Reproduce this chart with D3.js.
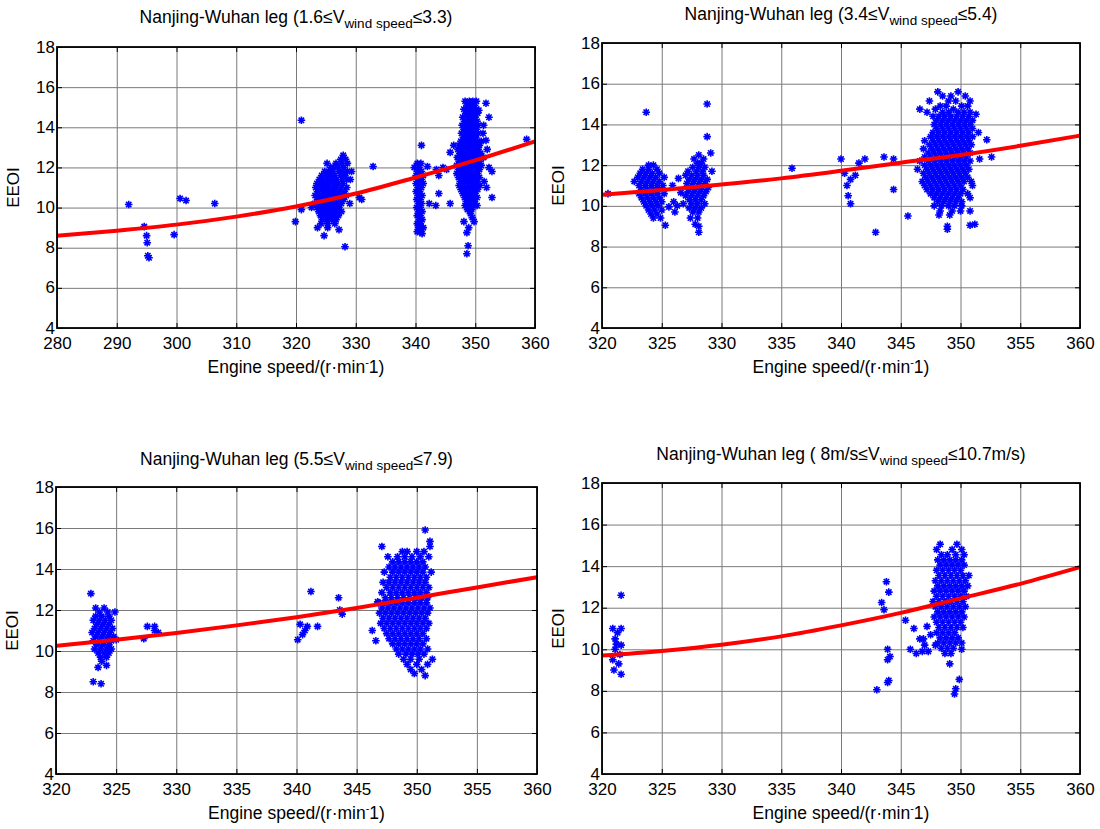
<!DOCTYPE html>
<html><head><meta charset="utf-8">
<script src="https://cdn.jsdelivr.net/npm/d3@7"></script>
<style>html,body{margin:0;padding:0;background:#fff;}svg{display:block;}text{font-family:"Liberation Sans",Arial,sans-serif;fill:#000;}</style>
</head><body>
<svg id="c" width="1100" height="829"></svg>
<script>
// ---------- DATA ----------
const xTicksWide = [280, 290, 300, 310, 320, 330, 340, 350, 360];
const xTicksNarrow = [320, 325, 330, 335, 340, 345, 350, 355, 360];
const yTicks = [4, 6, 8, 10, 12, 14, 16, 18];

const titleMain = "Nanjing-Wuhan leg (";
const titleLows = ["1.6≤V", "3.4≤V", "5.5≤V", " 8m/s≤V"];
const titleHighs = ["≤3.3)", "≤5.4)", "≤7.9)", "≤10.7m/s)"];
const titleSub = "wind speed";
const xLabel = "Engine speed/(r·min";
const yLabel = "EEOI";

// Panel 1 (1.6 ≤ V ≤ 3.3): isolated points [speed, EEOI]
const scatter1 = [
 [292,10.15],[294.6,9.05],[295,8.6],[295.1,8.25],[295.2,7.6],[295.4,7.5],[299.6,8.65],[300.6,10.45],[301.6,10.35],[306.4,10.2],
 [320.9,14.35],[319.9,9.3],[320.9,9.9],
 [323.6,9.0],[324.7,8.6],[325.3,9.0],[327.2,8.9],[328.2,8.05],[330.6,10.5],[331,10.4],[332.9,12.05],[322.6,10.0],[329.3,11.8],[329.0,10.2],
 [341,13.1],[341.1,8.7],
 [342,12.05],[343.5,11.9],[343.9,11.6],[342.3,10.2],[343.4,10.1],[343.9,10.7],[345.8,10.2],[345.8,12.75],[346.4,13.1],[344.6,12.0],[345.2,11.9],
 [348.1,9.3],[349.8,9.3],[348.6,8.75],[348.8,8.1],[348.6,7.7],[349.2,9.7],[348.9,9.0],[349.5,9.5],
 [350.6,14.85],[352.3,14.5],[351.8,15.2],[351.4,14.1],[351.8,13.35],[352,12.9],[351.4,12.5],[352.3,12.0],[352.8,11.8],[352.8,10.5],
 [350.3,10.1],[358.6,13.4],[351.3,13.7],[351.5,11.3],[351.9,11.0]
];
// Panel 1 dense groups, by row: [EEOI, [speeds...]]
const dense1 = [
 [12.6,[327.9]],[12.4,[327.5,328.3]],[12.2,[325.2,326.7,327.6,328.6]],[12.0,[325.8,326.3,327.1,328.0]],
 [11.8,[324.8,325.5,326.2,327.2,327.9,328.6]],[11.6,[324.3,325.1,325.8,326.5,327.5,328.2]],
 [11.4,[323.9,324.6,325.3,326.0,326.8,327.7,328.5,329.1]],[11.2,[323.5,324.2,324.9,325.6,326.4,327.1,327.9]],
 [11.0,[323.3,324.0,324.7,325.4,326.1,326.8,327.6,328.5]],[10.8,[323.6,324.4,325.1,325.8,326.5,327.3,328.1]],
 [10.6,[323.2,323.9,324.7,325.4,326.1,326.9,327.7,328.4]],[10.4,[323.6,324.3,325.0,325.7,326.5,327.3,328.0]],
 [10.2,[323.1,323.9,324.6,325.3,326.0,326.8,327.6]],[10.0,[323.5,324.2,324.9,325.6,326.4,327.2]],
 [9.8,[323.8,324.5,325.2,326.0,326.8,327.6]],[9.6,[324.1,324.9,325.6,326.4,327.1]],[9.4,[324.4,325.2,326.0,326.7]],[9.2,[324.2,325.3,326.5]],
 [12.2,[340.3,340.9]],[12.0,[339.8,340.6]],[11.8,[340.3,341.0]],[11.6,[340.1,340.7,341.3]],[11.4,[340.4,341.0]],
 [11.2,[340.1,340.7,341.3]],[11.0,[340.4,341.0]],[10.8,[340.1,340.7]],[10.6,[340.4,341.1]],[10.4,[340.2,340.8]],
 [10.2,[340.5,341.0]],[10.0,[340.2,340.8]],[9.8,[340.5,341.1]],[9.6,[340.3,340.8]],[9.4,[340.6,341.1]],
 [9.2,[340.3,340.8]],[9.0,[340.5,341.0,341.3]],[8.8,[340.3,340.8]],
 [15.3,[348.3,349.0,349.6,350.2]],[15.1,[348.6,349.3,349.9]],[14.9,[348.1,348.8,349.5,350.2]],[14.7,[348.4,349.1,349.8,350.4]],
 [14.5,[347.9,348.7,349.4,350.0]],[14.3,[348.2,348.9,349.6,350.3]],[14.1,[347.8,348.5,349.2,349.9,350.5]],
 [13.9,[348.1,348.8,349.5,350.2]],[13.7,[347.7,348.4,349.1,349.8,350.5]],[13.5,[348.0,348.7,349.4,350.1]],
 [13.3,[347.6,348.3,349.0,349.7,350.4,351.0]],[13.1,[347.3,348.0,348.7,349.4,350.1,350.7]],
 [12.9,[347.1,347.7,348.4,349.1,349.8,350.5]],[12.7,[347.4,348.1,348.8,349.5,350.2,350.9]],
 [12.5,[347.0,347.7,348.4,349.1,349.8,350.5]],[12.3,[347.3,348.0,348.7,349.4,350.1,350.8]],
 [12.1,[346.9,347.6,348.3,349.0,349.7,350.4,351.0]],[11.9,[347.2,347.9,348.6,349.3,350.0,350.7]],
 [11.7,[346.9,347.6,348.3,349.0,349.7,350.4]],[11.5,[347.2,347.9,348.6,349.3,350.0,350.7]],
 [11.3,[347.5,348.2,348.9,349.6,350.3]],[11.1,[347.3,348.0,348.7,349.4,350.1,350.8]],
 [10.9,[347.6,348.3,349.0,349.7,350.4]],[10.7,[347.9,348.6,349.3,350.0]],[10.5,[348.2,348.9,349.6,350.3]],
 [10.3,[348.5,349.2,349.9]],[10.1,[348.3,349.0,349.7]],[9.9,[348.7,349.4]]
];
const fit1 = [[280,8.6],[290,8.85],[300,9.15],[310,9.55],[320,10.05],[330,10.7],[340,11.5],[350,12.35],[360,13.3]];

// Panel 2 (3.4 ≤ V ≤ 5.4)
const scatter2 = [
 [320.5,10.6],[323.7,14.6],[325.3,9.05],
 [325.6,9.95],[326,10.2],[326.6,10.65],[325.9,11.0],[326.3,10.0],[326.1,9.7],[326.4,11.35],
 [328.8,15.0],[328.8,13.4],[327.8,9.1],[328.1,9.0],[328.1,8.7],
 [335.9,11.85],[340,12.3],[340.5,11.0],[340.8,10.1],[341.5,12.1],[342,12.3],[342.9,8.7],[343.6,12.4],[344.4,12.3],[344.4,10.8],
 [340.3,11.6],[340.8,11.3],[341.2,11.5],[340.6,10.5],[345.6,9.5],
 [348.9,9.0],[348.9,8.85],[351.2,9.1],[350.8,9.05],[351,11.0],
 [352.2,13.25],[352.6,12.4],[351.6,12.3],[351.5,13.6],[351.3,14.5]
];
const dense2 = [
 [12.0,[323.9,324.3]],[11.8,[323.4,323.9,324.6]],[11.6,[323.2,323.7,324.2,324.8]],[11.4,[323.0,323.5,324.0,324.5,325.2]],
 [11.2,[322.7,323.3,323.8,324.3,324.8]],[11.0,[323.1,323.6,324.1,324.6,325.1]],[10.8,[323.3,323.8,324.3,324.8]],
 [10.6,[323.1,323.6,324.1,324.6,325.2]],[10.4,[323.3,323.8,324.3,324.8]],[10.2,[323.5,324.0,324.5,325.0]],
 [10.0,[323.7,324.2,324.7]],[9.8,[323.9,324.4,325.0]],[9.6,[324.1,324.6]],[9.4,[324.3,324.9]],
 [12.6,[329.1]],[12.5,[328.1]],[12.3,[327.7,328.5]],[12.1,[328.0,328.3]],[11.9,[327.6,328.1,328.6]],
 [11.7,[327.2,327.9,328.4,329.2]],[11.5,[327.0,327.5,328.0,328.5]],[11.3,[327.3,327.8,328.3,328.8]],
 [11.1,[327.1,327.6,328.1,328.6]],[10.9,[327.4,327.9,328.4,328.9]],[10.7,[327.2,327.7,328.2,328.7]],
 [10.5,[327.0,327.5,328.0,328.5]],[10.3,[327.3,327.8,328.3]],[10.1,[326.8,327.5,328.0,328.6]],
 [9.9,[327.3,327.8,328.3]],[9.7,[327.6,328.1]],[9.4,[327.4,328.0]],
 [15.6,[348.1,349.8]],[15.4,[348.5,349.2,350.4]],[15.15,[347.4,349.0,349.6,350.8]],[14.9,[348.3,348.8,350.1,350.6]],
 [14.75,[346.6,347.9,349.4]],[14.6,[347.2,348.5,349.0,349.8,350.3,350.8]],
 [14.4,[347.7,348.2,348.7,349.2,349.7,350.2,350.7]],[14.2,[348.0,348.5,349.0,349.5,350.0,350.5,351.0]],
 [14.0,[347.8,348.3,348.8,349.3,349.8,350.3,350.8]],[13.8,[348.0,348.5,349.0,349.5,350.0,350.5,351.0]],
 [13.6,[347.7,348.2,348.7,349.2,349.7,350.2,350.7]],[13.4,[347.5,348.0,348.5,349.0,349.5,350.0,350.5,351.0]],
 [13.2,[347.0,347.7,348.2,348.7,349.2,349.7,350.2,350.7]],[13.0,[347.4,347.9,348.4,348.9,349.4,349.9,350.4,350.9]],
 [12.8,[346.9,347.6,348.1,348.6,349.1,349.6,350.1,350.6]],[12.6,[347.3,347.8,348.3,348.8,349.3,349.8,350.3,350.8]],
 [12.4,[347.0,347.5,348.0,348.5,349.0,349.5,350.0,350.5]],[12.2,[346.6,347.3,347.8,348.3,348.8,349.3,349.8,350.3,350.8]],
 [12.0,[347.0,347.5,348.0,348.5,349.0,349.5,350.0,350.5]],[11.8,[346.4,347.2,347.7,348.2,348.7,349.2,349.7,350.2,350.7]],
 [11.6,[346.9,347.4,347.9,348.4,348.9,349.4,349.9,350.4]],[11.4,[347.1,347.6,348.1,348.6,349.1,349.6,350.1,350.6]],
 [11.2,[346.8,347.3,347.8,348.3,348.8,349.3,349.8,350.3,350.9]],[11.0,[347.0,347.5,348.0,348.5,349.0,349.5,350.0]],
 [10.8,[347.2,347.7,348.2,348.7,349.2,349.7,350.2]],[10.6,[347.5,348.0,348.5,349.0,349.5,350.0,350.6]],
 [10.4,[347.8,348.3,348.8,349.3,349.8,350.8]],[10.2,[348.1,348.6,349.1,349.6,350.1]],
 [10.0,[347.8,348.4,349.0,349.5,350.1]],[9.75,[348.3,349.3,350.0,350.8]],[9.55,[348.2,349.1]]
];
const fit2 = [[320,10.55],[325,10.78],[330,11.05],[335,11.35],[340,11.72],[345,12.12],[350,12.5],[355,12.95],[360,13.45]];

// Panel 3 (5.5 ≤ V ≤ 7.9)
const scatter3 = [
 [322.9,12.8],[323.5,9.2],[323.1,8.5],[323.75,8.4],[325,10.55],
 [327.3,10.6],[327.6,11.2],[328.2,11.0],[328.5,10.9],[328.2,11.2],
 [340.3,11.3],[340.1,10.55],[340.7,11.0],[340.9,11.2],[341.2,12.9],[341.75,11.2],[343.5,12.6],[343.6,12.0],[343.8,11.8],[340.5,10.8],
 [350.7,15.9],[351.1,15.35],[347.1,15.1],[351.1,15.1],[349.8,8.9],[350.7,8.8],
 [346.75,12.4],[346.3,11.0],[346.6,10.5]
];
const dense3 = [
 [12.1,[323.3,324.0]],[11.9,[323.6,324.3,324.9]],[11.7,[323.3,323.8,324.4]],[11.5,[323.1,323.6,324.1,324.6]],
 [11.3,[323.4,323.9,324.4]],[11.1,[323.2,323.7,324.2,324.7]],[10.9,[323.0,323.5,324.0,324.5]],
 [10.7,[323.3,323.8,324.3,324.8]],[10.5,[323.1,323.6,324.1,324.6]],[10.3,[323.4,323.9,324.4]],
 [10.1,[323.2,323.7,324.2,324.6]],[9.9,[323.5,324.0,324.4]],[9.7,[323.7,324.2]],[9.5,[323.8]],[9.3,[324.2]],
 [14.85,[348.8,349.2,350.0,350.6]],[14.6,[347.6,348.4,349.0,349.6,350.3,351.0]],
 [14.35,[348.0,348.5,349.0,349.5,350.0,350.5]],[14.1,[347.7,348.2,348.7,349.2,349.7,350.2,350.7]],
 [13.85,[347.3,348.0,348.5,349.0,349.5,350.0,350.5,351.2]],[13.6,[347.8,348.3,348.8,349.3,349.8,350.3,350.8]],
 [13.35,[347.2,347.7,348.2,348.7,349.2,349.7,350.2,350.7]],[13.1,[347.5,348.0,348.5,349.0,349.5,350.0,350.5,351.0]],
 [12.85,[347.1,347.8,348.3,348.8,349.3,349.8,350.3,350.8]],[12.6,[347.4,347.9,348.4,348.9,349.4,349.9,350.4,350.9]],
 [12.35,[346.8,347.3,347.8,348.3,348.8,349.3,349.8,350.3,350.8]],[12.1,[347.1,347.6,348.1,348.6,349.1,349.6,350.1,350.6,351.1]],
 [11.85,[346.9,347.4,347.9,348.4,348.9,349.4,349.9,350.4,350.9]],[11.6,[347.2,347.7,348.2,348.7,349.2,349.7,350.2,350.7]],
 [11.35,[347.0,347.5,348.0,348.5,349.0,349.5,350.0,350.5,351.0]],[11.1,[347.3,347.8,348.3,348.8,349.3,349.8,350.3,350.8]],
 [10.85,[347.5,348.0,348.5,349.0,349.5,350.0,350.5]],[10.6,[347.7,348.2,348.7,349.2,349.7,350.2,350.8]],
 [10.35,[348.0,348.5,349.0,349.5,350.0,350.5]],[10.1,[348.3,348.8,349.3,349.8,350.3,350.9]],
 [9.85,[348.5,349.1,349.6,350.1,350.6]],[9.6,[348.9,349.5,350.2,351.3]],[9.35,[349.2,350.0,350.9]],[9.1,[349.5,350.4]]
];
const fit3 = [[320,10.25],[325,10.55],[330,10.88],[335,11.25],[340,11.65],[345,12.1],[350,12.6],[355,13.1],[360,13.6]];

// Panel 4 (8 m/s ≤ V ≤ 10.7 m/s)
const scatter4 = [
 [321.6,12.6],[320.9,11.0],[321.6,11.0],[321.1,10.5],[321.6,10.2],[321.1,10.0],[321.5,9.75],[320.9,9.5],[321.4,9.3],[321.0,9.0],[321.6,8.8],[321.3,10.8],[321.2,10.25],
 [343,8.05],[343.9,8.4],[344,8.5],[343.4,12.25],[343.8,13.25],[344,12.75],[343.6,11.9],[343.9,10.0],[344.1,9.65],[343.9,9.5],
 [345.4,11.4],[346.1,11.0],[346.6,10.5],[347,10.2],[345.8,10.0],[346.8,9.9],[347.5,10.7],[347.2,11.1],[347.9,10.2],[346.3,9.8],[346.9,10.5],[347.3,9.9],
 [349.1,9.3],[349.6,8.1],[349.5,7.85],[349.9,8.55],[350.1,10.0]
];
const dense4 = [
 [15.05,[348.3,349.7]],[14.8,[348.0,349.3,350.1]],[14.55,[348.4,348.9,349.6,350.3]],[14.3,[348.1,348.6,349.1,349.6,350.1]],
 [14.05,[348.3,348.8,349.3,349.8,350.3]],[13.8,[348.0,348.5,349.0,349.5,350.0]],[13.55,[348.2,348.7,349.2,349.7,350.2,350.7]],
 [13.3,[347.9,348.4,348.9,349.4,349.9,350.4]],[13.05,[348.1,348.6,349.1,349.6,350.1,350.6]],
 [12.8,[347.8,348.3,348.8,349.3,349.8,350.3]],[12.55,[348.0,348.5,349.0,349.5,350.0,350.5]],
 [12.3,[347.7,348.2,348.7,349.2,349.7,350.2]],[12.05,[347.9,348.4,348.9,349.4,349.9,350.4]],
 [11.8,[348.1,348.6,349.1,349.6,350.1]],[11.55,[347.8,348.3,348.8,349.3,349.8,350.3]],
 [11.3,[348.0,348.5,349.0,349.5,350.0]],[11.05,[348.2,348.7,349.2,349.7,350.2]],[10.8,[348.0,348.5,349.0,349.5]],
 [10.55,[348.3,348.8,349.3,349.8]],[10.3,[348.1,348.6,349.1,349.6,350.1]],[10.05,[348.4,348.9,349.4]],[9.8,[348.7,349.2]]
];
const fit4 = [[320,9.7],[325,9.92],[330,10.22],[335,10.62],[340,11.15],[345,11.75],[350,12.45],[355,13.15],[360,13.95]];

// ---------- DRAW ----------
const svg = d3.select("#c");
svg.append("rect").attr("width",1100).attr("height",829).attr("fill","#fff");

const expand = rows => rows.flatMap(([yv, xs]) => xs.map(xv => [xv, yv]));

const panels = [
  {frame:{x0:57,x1:535,y0:47,y1:328}, xt:xTicksWide, data:scatter1.concat(expand(dense1)), fit:fit1, ti:0, ty:23},
  {frame:{x0:602,x1:1080,y0:43,y1:328}, xt:xTicksNarrow, data:scatter2.concat(expand(dense2)), fit:fit2, ti:1, ty:20},
  {frame:{x0:56,x1:537,y0:487,y1:774}, xt:xTicksNarrow, data:scatter3.concat(expand(dense3)), fit:fit3, ti:2, ty:465},
  {frame:{x0:602,x1:1080,y0:483,y1:774}, xt:xTicksNarrow, data:scatter4.concat(expand(dense4)), fit:fit4, ti:3, ty:460}
];

const starPath = (function(){
  const r = 3.8, d = 2.7;
  return `M0,${-r}V${r}M${-r},0H${r}M${-d},${-d}L${d},${d}M${-d},${d}L${d},${-d}`;
})();

panels.forEach(p => {
  const f = p.frame;
  const x = d3.scaleLinear().domain([p.xt[0], p.xt[p.xt.length-1]]).range([f.x0, f.x1]);
  const y = d3.scaleLinear().domain([4, 18]).range([f.y1, f.y0]);
  const g = svg.append("g");
  const w = f.x1 - f.x0, h = f.y1 - f.y0;

  // grid
  g.append("g").attr("transform",`translate(0,${f.y1})`)
    .call(d3.axisBottom(x).tickValues(p.xt).tickSize(-h).tickFormat(""))
    .call(s => { s.select(".domain").remove(); s.selectAll("line").attr("stroke","#7a7a7a").attr("stroke-width",1); });
  g.append("g").attr("transform",`translate(${f.x0},0)`)
    .call(d3.axisLeft(y).tickValues(yTicks).tickSize(-w).tickFormat(""))
    .call(s => { s.select(".domain").remove(); s.selectAll("line").attr("stroke","#7a7a7a").attr("stroke-width",1); });

  // scatter
  g.append("g").selectAll("path").data(p.data).join("path")
    .attr("transform", d => `translate(${x(d[0])},${y(d[1])})`)
    .attr("d", starPath)
    .attr("fill","none").attr("stroke","#0000ff").attr("stroke-width",1.6);

  // fit line
  g.append("path").datum(p.fit)
    .attr("d", d3.line().x(d => x(d[0])).y(d => y(d[1])).curve(d3.curveMonotoneX))
    .attr("fill","none").attr("stroke","#ff0000").attr("stroke-width",4);

  // frame
  g.append("rect").attr("x",f.x0).attr("y",f.y0).attr("width",w).attr("height",h)
    .attr("fill","none").attr("stroke","#000").attr("stroke-width",1.8);

  // inward ticks + labels
  const bx = g.append("g").attr("transform",`translate(0,${f.y1})`)
    .call(d3.axisBottom(x).tickValues(p.xt).tickSize(-5).tickPadding(9).tickFormat(d3.format("d")));
  bx.select(".domain").remove();
  bx.selectAll("line").attr("stroke","#000");
  bx.selectAll("text").attr("font-size",17).attr("font-family","Liberation Sans, Arial, sans-serif").attr("fill","#000");
  const tx = g.append("g").attr("transform",`translate(0,${f.y0})`)
    .call(d3.axisTop(x).tickValues(p.xt).tickSize(-5).tickFormat(""));
  tx.select(".domain").remove(); tx.selectAll("line").attr("stroke","#000");
  const ly = g.append("g").attr("transform",`translate(${f.x0},0)`)
    .call(d3.axisLeft(y).tickValues(yTicks).tickSize(-5).tickPadding(2).tickFormat(d3.format("d")));
  ly.select(".domain").remove();
  ly.selectAll("line").attr("stroke","#000");
  ly.selectAll("text").attr("font-size",17).attr("font-family","Liberation Sans, Arial, sans-serif").attr("fill","#000").attr("dy","0.3em");
  const ry = g.append("g").attr("transform",`translate(${f.x1},0)`)
    .call(d3.axisRight(y).tickValues(yTicks).tickSize(-5).tickFormat(""));
  ry.select(".domain").remove(); ry.selectAll("line").attr("stroke","#000");

  // title
  const cx = (f.x0 + f.x1) / 2;
  const t = g.append("text").attr("x",cx).attr("y",p.ty).attr("text-anchor","middle").attr("font-size",17.5);
  t.append("tspan").text(titleMain + titleLows[p.ti]);
  t.append("tspan").attr("font-size",13.5).attr("dy",5).text(titleSub);
  t.append("tspan").attr("dy",-5).text(titleHighs[p.ti]);

  // x label
  const xl = g.append("text").attr("x",cx).attr("y",f.y1+45).attr("text-anchor","middle").attr("font-size",17.5);
  xl.append("tspan").text(xLabel);
  xl.append("tspan").attr("font-size",11).attr("dy",-7).text("-");
  xl.append("tspan").attr("dy",7).text("1)");

  // y label
  g.append("text").attr("transform",`translate(${f.x0-38},${(f.y0+f.y1)/2}) rotate(-90)`)
    .attr("text-anchor","middle").attr("font-size",17).text(yLabel);
});
</script>
</body></html>
